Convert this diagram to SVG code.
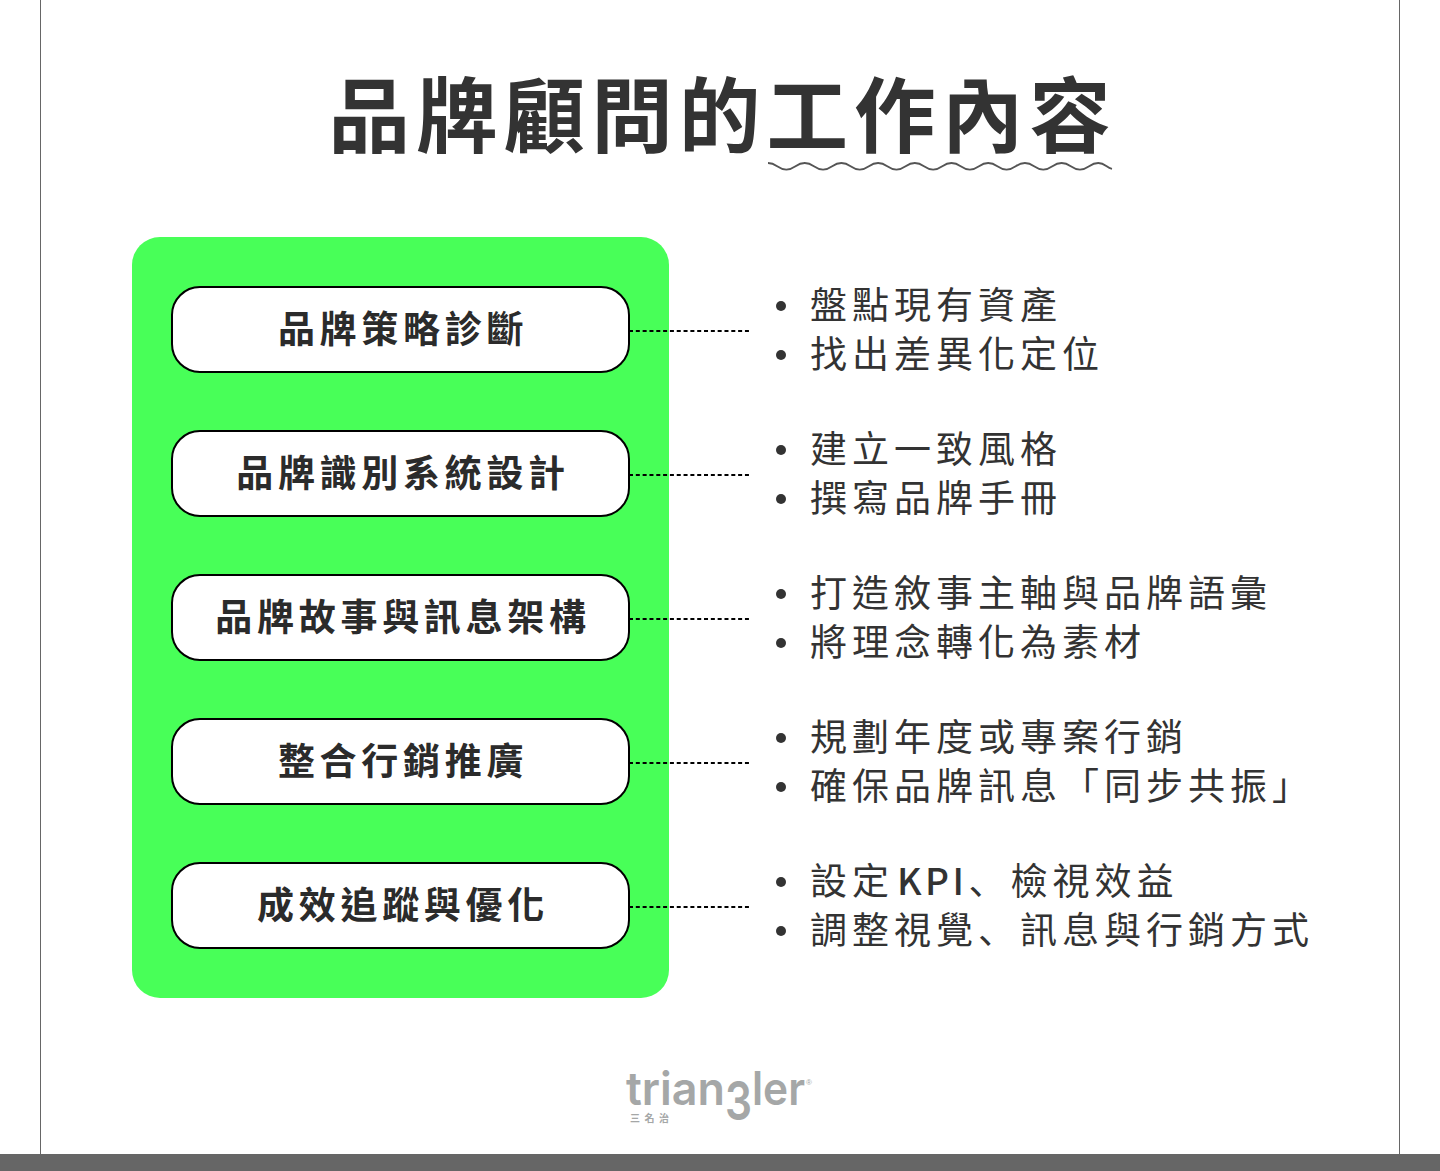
<svg xmlns="http://www.w3.org/2000/svg" width="1440" height="1171" viewBox="0 0 1440 1171">
<style>
text{font-family:"Noto Sans CJK TC","Noto Sans",sans-serif}
.t{font-size:81.500px;font-weight:700;fill:#333;letter-spacing:6.100px}
.n{fill:#fff;stroke:#000;stroke-width:2}
.l{font-size:37px;font-weight:700;fill:#2b2b2b;letter-spacing:4.700px;text-anchor:middle}
.b{font-size:37px;font-weight:400;fill:#333;letter-spacing:5px}
.j{font-family:"Noto Sans CJK JP",sans-serif}
.k{font-weight:500;letter-spacing:3.500px}
.d{fill:#333}
.c{stroke:#000;stroke-width:2;stroke-dasharray:4 2.820;fill:none}
.g{font-family:Inter,sans-serif;font-weight:600;font-size:46px}
</style>
<rect width="1440" height="1171" fill="#fff"/>
<g id="frame"><path d="M40.500 0V1155M1399.500 0V1155" stroke="#666" stroke-width="1" fill="none"/><rect x="0" y="1154" width="1440" height="17" fill="#666"/></g>
<g id="title"><text class="t" x="328.500" y="145.500">品牌顧問的工作內容</text>
<path d="M768 163c9 0 9.350 6.600 18.350 6.600s9.350-6.600 18.350-6.600s9.350 6.600 18.350 6.600s9.350-6.600 18.350-6.600s9.350 6.600 18.350 6.600s9.350-6.600 18.350-6.600s9.350 6.600 18.350 6.600s9.350-6.600 18.350-6.600s9.350 6.600 18.350 6.600s9.350-6.600 18.350-6.600s9.350 6.600 18.350 6.600s9.350-6.600 18.350-6.600s9.350 6.600 18.350 6.600s9.350-6.600 18.350-6.600s9.350 6.600 18.350 6.600s9.350-6.600 18.350-6.600s9.350 6.600 18.350 6.600s9.350-6.600 18.350-6.600c7 0 8 4.800 13.700 5.800" fill="none" stroke="#555" stroke-width="1.800"/></g>
<rect id="panel" x="132" y="237" width="537" height="761" rx="28" fill="#48ff58"/>
<g id="connectors">
<path class="c" d="M629 331H749"/><path class="c" d="M629 475H749"/><path class="c" d="M629 619H749"/><path class="c" d="M629 763H749"/><path class="c" d="M629 907H749"/>
</g>
<g id="node1"><rect class="n" x="172" y="287" width="457" height="85" rx="28"/><text class="l" x="403" y="343">品牌策略診斷</text></g>
<g id="node2"><rect class="n" x="172" y="431" width="457" height="85" rx="28"/><text class="l" x="403" y="487">品牌識別系統設計</text></g>
<g id="node3"><rect class="n" x="172" y="575" width="457" height="85" rx="28"/><text class="l" x="403" y="631">品牌故事與訊息架構</text></g>
<g id="node4"><rect class="n" x="172" y="719" width="457" height="85" rx="28"/><text class="l" x="403" y="775">整合行銷推廣</text></g>
<g id="node5"><rect class="n" x="172" y="863" width="457" height="85" rx="28"/><text class="l" x="403" y="919">成效追蹤與優化</text></g>
<g id="list1"><circle class="d" cx="781" cy="306" r="5"/><text class="b" x="810" y="319">盤點現有資產</text><circle class="d" cx="781" cy="355" r="5"/><text class="b" x="810" y="368">找出差異化定位</text></g>
<g id="list2"><circle class="d" cx="781" cy="450" r="5"/><text class="b" x="810" y="463">建立一致風格</text><circle class="d" cx="781" cy="499" r="5"/><text class="b" x="810" y="512">撰寫品牌手冊</text></g>
<g id="list3"><circle class="d" cx="781" cy="594" r="5"/><text class="b" x="810" y="607">打造敘事主軸與品牌語彙</text><circle class="d" cx="781" cy="643" r="5"/><text class="b" x="810" y="656">將理念轉化為素材</text></g>
<g id="list4"><circle class="d" cx="781" cy="738" r="5"/><text class="b" x="810" y="751">規劃年度或專案行銷</text><circle class="d" cx="781" cy="787" r="5"/><text class="b" x="810" y="800">確保品牌訊息「同步共振」</text></g>
<g id="list5"><circle class="d" cx="781" cy="882" r="5"/><text class="b" x="810" y="895">設定<tspan class="k" dx="3">KPI</tspan><tspan class="j" dx="1">、</tspan>檢視效益</text><circle class="d" cx="781" cy="931" r="5"/><text class="b" x="810" y="944">調整視覺<tspan class="j">、</tspan>訊息與行銷方式</text></g>
<g id="logo" fill="#a5a7a7"><text class="g" x="626" y="1105" textLength="99" lengthAdjust="spacingAndGlyphs">trian</text><text class="g" x="725" y="1120" style="font-size:54px" textLength="27" lengthAdjust="spacingAndGlyphs">3</text><text class="g" x="752" y="1105" textLength="53" lengthAdjust="spacingAndGlyphs">ler</text><text x="806" y="1085" font-size="8" style="font-family:'Liberation Sans',sans-serif">®</text><text x="630" y="1122" font-size="10" font-weight="700" letter-spacing="4.500">三名治</text></g>
</svg>
